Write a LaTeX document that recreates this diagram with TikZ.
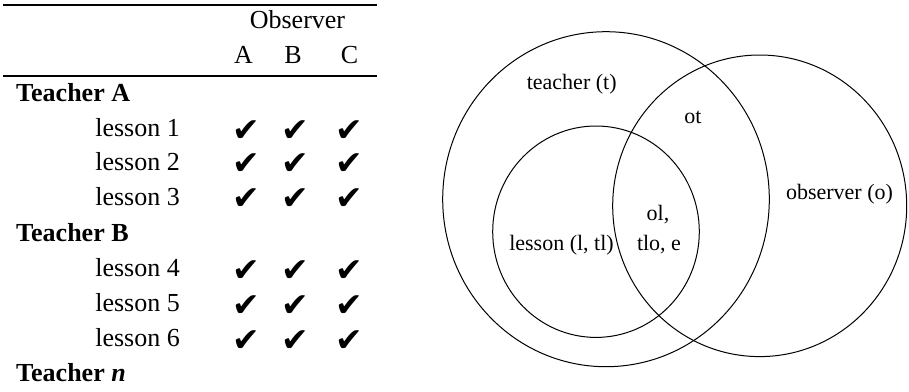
\documentclass[tikz,border=0pt]{standalone}
\usepackage{fontspec}
\setmainfont{Liberation Serif}
\newfontfamily\symf{DejaVu Sans}
\begin{document}
\begin{tikzpicture}[x=1pt,y=-1pt,
  tab/.style={inner sep=0pt,font=\fontsize{26}{30}\selectfont},
  head/.style={tab,anchor=base},
  teach/.style={tab,anchor=base west,font=\fontsize{26}{30}\selectfont\bfseries},
  less/.style={tab,anchor=base east},
  chk/.style={inner sep=0pt,font=\symf\fontsize{33}{36}\selectfont},
  rulel/.style={line width=1.6pt},
  venn/.style={line width=1pt},
  vlab/.style={inner sep=0pt,anchor=base,font=\fontsize{22}{26}\selectfont}]
\useasboundingbox (0,0) rectangle (909,391);
% table rules
\coordinate (r1a) at (3,5); \coordinate (r1b) at (377,5);
\coordinate (r2a) at (3,76); \coordinate (r2b) at (377,76);
\draw[rulel] (r1a) -- (r1b);
\draw[rulel] (r2a) -- (r2b);
% header
\node[head] (obs) at (297.5,28) {Observer};
\node[head] (hA) at (243.5,63) {A};
\node[head] (hB) at (293,63) {B};
\node[head] (hC) at (349.5,63) {C};
% rows
\node[teach] (tA) at (16,101.7) {Teacher A};
\node[less] (l1) at (180,136.7) {lesson 1};
\node[less] (l2) at (180,170.5) {lesson 2};
\node[less] (l3) at (180,205) {lesson 3};
\node[teach] (tB) at (16,241.7) {Teacher B};
\node[less] (l4) at (180,276.7) {lesson 4};
\node[less] (l5) at (180,311.7) {lesson 5};
\node[less] (l6) at (180,346.7) {lesson 6};
\node[teach] (tn) at (16,381.7) {Teacher \textit{n}};
% checks
\foreach \r/\y in {1/136.7,2/170.5,3/205,4/276.7,5/311.7,6/346.7}{
  \node[chk] (c\r a) at (246,\y-6) {✔};
  \node[chk] (c\r b) at (295,\y-6) {✔};
  \node[chk] (c\r c) at (349,\y-6) {✔};
}
% venn
\draw[venn] (606,199.2) ellipse [x radius=163.3, y radius=167.5];
\draw[venn] (759.7,205.8) ellipse [x radius=147, y radius=150.8];
\draw[venn] (596,231.7) ellipse [x radius=103.3, y radius=105.7];
\node[vlab] (vt) at (571.7,89) {teacher (t)};
\node[vlab] (vot) at (693,123) {ot};
\node[vlab] (vo) at (839.5,199) {observer (o)};
\node[vlab] (vol) at (658,220.7) {ol,};
\node[vlab] (vtlo) at (659,250.7) {tlo, e};
\node[vlab] (vl) at (561.5,250.7) {lesson (l, tl)};
\end{tikzpicture}
\end{document}
